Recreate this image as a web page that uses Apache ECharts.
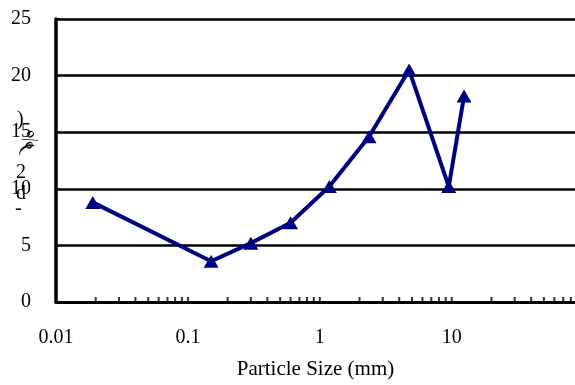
<!DOCTYPE html>
<html><head><meta charset="utf-8">
<script src="https://cdn.jsdelivr.net/npm/echarts@6/dist/echarts.min.js"></script>
<style>html,body{margin:0;padding:0;background:#fff;overflow:hidden}#c{width:575px;height:385px}</style>
</head><body><div id="c"></div>
<script>
var sizes = [0.019, 0.15, 0.3, 0.6, 1.18, 2.36, 4.75, 9.5, 12.4];
var values = [8.8, 3.6, 5.2, 7.0, 10.2, 14.6, 20.5, 10.2, 18.2];
var minorTickPos = [0.02,0.03,0.04,0.05,0.06,0.07,0.08,0.09,0.1,
  0.2,0.3,0.4,0.5,0.6,0.7,0.8,0.9,1,
  2,3,4,5,6,7,8,9,10,
  20,30,40,50,60,70,80];
var xTitle = 'Particle Size (mm)';
var yTitleChars = [')','%','(','2','d','-'];

var font = 'Liberation Serif';
var chart = echarts.init(document.getElementById('c'));
var yTitleY = [110, 128, 140, 163, 184, 199];
var yTitleX = [17, 16, 16, 16, 16, 15];
var graphics = yTitleChars.map(function(ch, i){
  return {type:'text', left: yTitleX[i], top: yTitleY[i], rotation: (i===1||i===2)? -Math.PI/3 : 0,
    style:{text: ch, font: '20px "' + font + '"', fill:'#000'}};
});
chart.setOption({
  animation:false,
  grid:{left:56, right:0, top:19, bottom:78, containLabel:false},
  graphic: graphics,
  xAxis:{type:'log', min:0.01, max:86, logBase:10,
    name: xTitle, nameLocation:'middle', nameGap:57,
    nameTextStyle:{fontFamily:font, fontSize:21, color:'#000'},
    axisLine:{show:true, onZero:false, lineStyle:{color:'#000', width:3}},
    axisTick:{show:false},
    splitLine:{show:false},
    axisLabel:{margin:26, fontFamily:font, fontSize:20, color:'#000', showMaxLabel:false,
      formatter:function(v){ if (v>=50) return ''; return String(v); }}
  },
  yAxis:{type:'value', min:0, max:25, interval:5,
    axisLine:{show:true, lineStyle:{color:'#000', width:3.5}},
    axisTick:{show:true, inside:true, length:4, lineStyle:{color:'#000', width:2}},
    splitLine:{show:true, lineStyle:{color:'#000', width:2.5}},
    axisLabel:{margin:25, fontFamily:font, fontSize:20, color:'#000', padding:[5,0,0,0]}
  },
  series:[
    {type:'scatter', silent:true, data: minorTickPos.map(function(v){return [v,0];}),
      symbol:'rect', symbolSize:[2,4], symbolOffset:[0,-3], itemStyle:{color:'#000'}, z:1},
    {type:'line', data: sizes.map(function(s,i){return [s, values[i]];}),
      lineStyle:{color:'#000080', width:4}, itemStyle:{color:'#000080'},
      symbol:'triangle', symbolSize:[15,13], showSymbol:true, z:5}
  ]
});
</script></body></html>
